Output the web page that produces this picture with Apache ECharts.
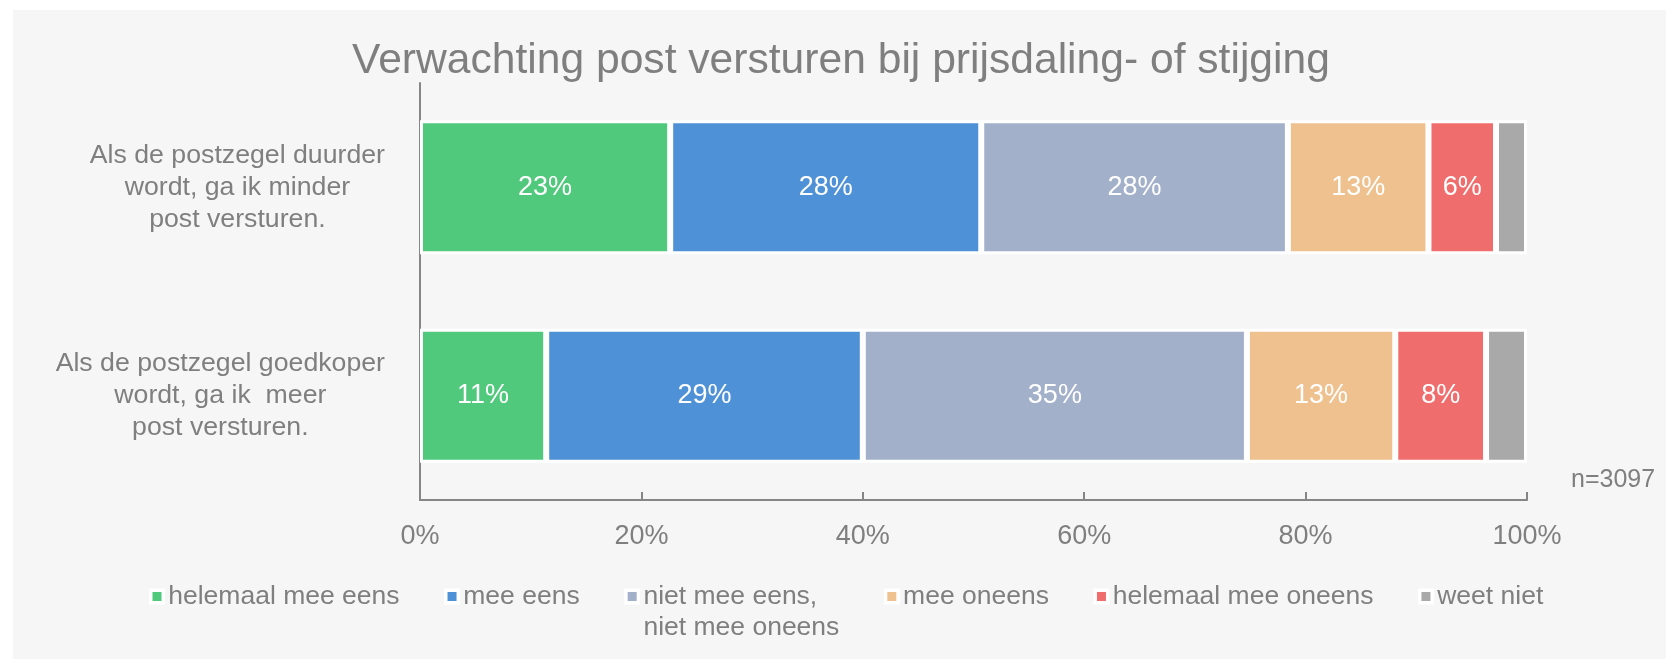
<!DOCTYPE html>
<html>
<head>
<meta charset="utf-8">
<title>Verwachting post versturen</title>
<script src="https://cdn.jsdelivr.net/npm/echarts@6/dist/echarts.min.js"></script>
<style>
	html,body{margin:0;padding:0;background:#fff;}
	#chart{width:1666px;height:659px;}
</style>
</head>
<body>
<div id="chart"></div>
<script>
// categorieen (van boven naar beneden)
var categories = [
	"Als de postzegel duurder\nwordt, ga ik minder\npost versturen.",
	"Als de postzegel goedkoper\nwordt, ga ik  meer\npost versturen."
];
// antwoorden, in %
var helemaalMeeEens = [22.6, 11.4];
var meeEens = [28.1, 28.6];
var neutraal = [27.7, 34.7];
var meeOneens = [12.7, 13.4];
var helemaalMeeOneens = [6.1, 8.2];
var weetNiet = [2.8, 3.7];
var xTicks = [0, 20, 40, 60, 80, 100];

var grey = "#7f7f7f",
	font = "'Liberation Sans', Arial, sans-serif";

var names = ["helemaal mee eens", "mee eens", "niet mee eens,\nniet mee oneens", "mee oneens", "helemaal mee oneens", "weet niet"],
	colors = ["#50c97c", "#4f91d6", "#a3b0ca", "#efc18f", "#f06d6d", "#a9a9a9"],
	values = [helemaalMeeEens, meeEens, neutraal, meeOneens, helemaalMeeOneens, weetNiet];

var _series = [];
for (var i = 0; i < names.length; i++) {
	_series.push({
		name: names[i],
		type: "bar",
		stack: "totaal",
		barWidth: 134,
		itemStyle: {
			color: colors[i],
			borderColor: "#fff",
			borderWidth: 3
		},
		label: {
			show: i < 5, // weet niet heeft geen label
			position: "inside",
			color: "#fff",
			fontSize: 27,
			fontFamily: font,
			formatter: function(p) {
				return Math.round(p.value) + "%";
			}
		},
		emphasis: {disabled: true},
		data: values[i]
	});
}

var myChart = echarts.init(document.getElementById("chart"));
myChart.setOption({
	animation: false,
	backgroundColor: "#fff",
	textStyle: {fontFamily: font},
	graphic: [{
		type: "rect",
		z: -10,
		silent: true,
		shape: {x: 13, y: 10, width: 1653, height: 649},
		style: {fill: "#f6f6f6"}
	}, {
		type: "text",
		left: 1571,
		top: 468,
		style: {text: "n=3097", fill: grey, fontSize: 25, fontFamily: font}
	}],
	title: {
		text: "Verwachting post versturen bij prijsdaling- of stijging",
		left: 841,
		top: 40,
		padding: 0,
		textAlign: "center",
		textStyle: {color: grey, fontSize: 42.6, fontWeight: "normal", fontFamily: font}
	},
	legend: {
		left: 149,
		top: 550,
		padding: 0,
		icon: "rect",
		itemWidth: 12.5,
		itemHeight: 12.5,
		itemGap: 44.5,
		itemStyle: {borderColor: "#fff", borderWidth: 3.5},
		textStyle: {color: grey, fontSize: 26.5, lineHeight: 31, fontFamily: font},
		// lege eerste regel: eerste tekstregel komt naast het blokje
		formatter: function(n) {
			return n.indexOf("\n") >= 0 ? "\n" + n : n;
		},
		data: names
	},
	grid: {left: 420, right: 139, top: 83, bottom: 159},
	xAxis: {
		type: "value",
		min: xTicks[0],
		max: xTicks[xTicks.length - 1],
		interval: xTicks[1] - xTicks[0],
		splitLine: {show: false},
		axisLine: {show: true, lineStyle: {color: "#868686", width: 2}},
		axisTick: {show: true, inside: true, length: 8, lineStyle: {color: "#868686", width: 2}},
		axisLabel: {color: grey, fontSize: 27, margin: 23, formatter: "{value}%"}
	},
	yAxis: {
		type: "category",
		inverse: true,
		data: categories,
		axisLine: {show: true, lineStyle: {color: "#868686", width: 2}},
		axisTick: {show: false},
		axisLabel: {
			margin: 35,
			formatter: function(v) {
				// regels gecentreerd binnen een rechts uitgelijnd blok
				return v.split("\n").map(function(r) { return "{c|" + r + "}"; }).join("\n");
			},
			rich: {
				c: {align: "center", color: grey, fontSize: 26.7, lineHeight: 32, fontFamily: font}
			}
		}
	},
	series: _series
});
</script>
</body>
</html>
